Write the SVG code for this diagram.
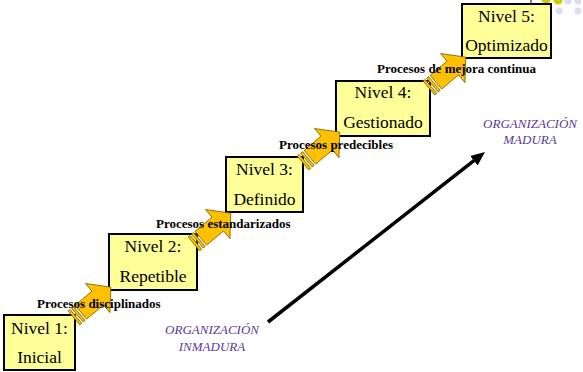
<svg xmlns="http://www.w3.org/2000/svg" width="583" height="372" viewBox="0 0 583 372">
<style>
.box{fill:#FFFF99;stroke:#000;stroke-width:2}
.bt{font-family:'Liberation Serif','DejaVu Serif','Times New Roman',serif;font-size:17.5px;fill:#000;text-anchor:middle}
.lbl{font-family:'Liberation Serif','DejaVu Serif','Times New Roman',serif;font-size:13px;font-weight:bold;fill:#000}
.org{font-family:'Liberation Serif','DejaVu Serif','Times New Roman',serif;font-size:13px;font-style:italic;fill:#5B3A96;text-anchor:middle}
.arr{fill:#FFC000;stroke:#7A6400;stroke-width:0.8}
</style>
<defs>
<g id="sarrow">
<rect class="arr" x="0" y="-9" width="2.5" height="18"/>
<rect class="arr" x="4.5" y="-9" width="2.5" height="18"/>
<path class="arr" d="M9,-9 L31,-9 L31,-19 L48,0 L31,19 L31,9 L9,9 Z"/>
</g>
<marker id="ah" viewBox="0 0 14 12" refX="4" refY="6" markerWidth="14" markerHeight="12" markerUnits="userSpaceOnUse" orient="auto">
<path d="M0,0 L14,6 L0,12 Z" fill="#000"/>
</marker>
</defs>
<g id="decor">
<line x1="531" y1="0" x2="531" y2="4" stroke="#000" stroke-width="1"/>
<circle cx="546" cy="-1" r="4.5" fill="#CCCC00"/>
<circle cx="558" cy="0" r="4.5" fill="#CCCC00"/>
<circle cx="568" cy="1" r="3.5" fill="#DCDCEE"/>
<circle cx="578" cy="1" r="3.5" fill="#DCDCEE"/>
<circle cx="559" cy="11" r="3.5" fill="#DCDCEE"/>
<circle cx="578" cy="11" r="3.5" fill="#DCDCEE"/>
</g>
<g id="n1"><rect class="box" x="4" y="315" width="71" height="55"/><text class="bt" x="39.5" y="334">Nivel 1:</text><text class="bt" x="39.5" y="363">Inicial</text></g>
<g id="n2"><rect class="box" x="109" y="234" width="88" height="56"/><text class="bt" x="153" y="252">Nivel 2:</text><text class="bt" x="153" y="282">Repetible</text></g>
<g id="n3"><rect class="box" x="226" y="157" width="77" height="55"/><text class="bt" x="264.5" y="175">Nivel 3:</text><text class="bt" x="264.5" y="205">Definido</text></g>
<g id="n4"><rect class="box" x="336" y="81" width="94" height="55"/><text class="bt" x="383" y="98">Nivel 4:</text><text class="bt" x="383" y="128">Gestionado</text></g>
<g id="n5"><rect class="box" x="462" y="4" width="89" height="54"/><text class="bt" x="506.5" y="22">Nivel 5:</text><text class="bt" x="506.5" y="51">Optimizado</text></g>
<g id="connectors">
<use href="#sarrow" transform="translate(74,318) rotate(-40)"/>
<use href="#sarrow" transform="translate(194,244) rotate(-40)"/>
<use href="#sarrow" transform="translate(303,163) rotate(-40)"/>
<use href="#sarrow" transform="translate(429,88) rotate(-40)"/>
<line x1="268" y1="322" x2="477.1" y2="158.2" stroke="#000" stroke-width="3.5" marker-end="url(#ah)"/>
</g>
<g id="labels">
<text class="lbl" x="37" y="308">Procesos disciplinados</text>
<text class="lbl" x="156" y="228">Procesos estandarizados</text>
<text class="lbl" x="279" y="149">Procesos predecibles</text>
<text class="lbl" x="377" y="73">Procesos de mejora continua</text>
<text class="org" x="212" y="334">ORGANIZACIÓN</text>
<text class="org" x="212" y="351">INMADURA</text>
<text class="org" x="530" y="128">ORGANIZACIÓN</text>
<text class="org" x="530" y="144">MADURA</text>
</g>
</svg>
